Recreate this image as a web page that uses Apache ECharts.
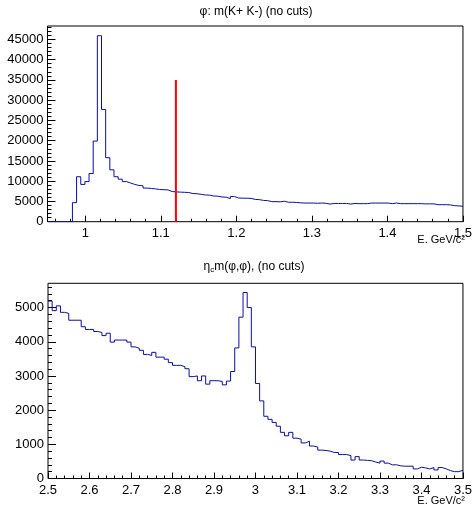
<!DOCTYPE html>
<html><head><meta charset="utf-8">
<script src="https://cdn.jsdelivr.net/npm/echarts@6/dist/echarts.min.js"></script>
<style>html,body{margin:0;padding:0;background:#fff}#c{width:475px;height:511px}</style>
</head><body><div id="c"></div>
<script>
// ---- data ----
const phiRange = [0.95, 1.5];
const phiCounts = [0,0,0,0,0,0,4700,11100,9200,9900,
  11900,19900,45900,27700,15800,12800,11100,10500,9900,9550,
  9200,8950,8850,8300,8200,8100,7950,7900,7850,7450,
  7350,7300,7250,7200,6950,6900,6750,6600,6550,6350,
  6300,6100,6050,5700,6200,5850,5800,5800,5750,5500,
  5450,5250,5200,4950,4950,4900,5050,4800,4800,4750,
  4650,4600,4600,4600,4550,4600,4550,4350,4500,4500,
  4500,4500,4350,4500,4450,4450,4450,4600,4600,4600,
  4600,4600,4450,4600,4450,4450,4450,4450,4450,4450,
  4400,4400,4400,4200,4200,4200,4150,3950,3900,3800];
const etaRange = [2.5, 3.5];
const etaCounts = [5190,4910,5050,4860,4830,4630,4630,4630,4440,4360,
  4360,4300,4270,4180,4250,3990,4050,4050,4050,3990,
  3850,3810,3750,3630,3600,3690,3550,3550,3490,3390,
  3310,3310,3270,3210,2980,3000,2860,3000,2760,2860,
  2860,2840,2740,2850,3130,3820,4720,5440,5000,3850,
  2780,2270,1820,1730,1640,1530,1350,1250,1350,1180,
  1150,1040,1090,950,920,830,820,800,760,760,
  700,700,670,540,640,540,530,520,480,450,
  510,450,400,400,370,360,360,360,280,330,
  310,280,320,250,320,280,230,200,200,240];
const cutX = 1.12;
const cutTop = 35000;
const phiYMax = 48300;
const etaYMax = 5710;
const phiXTicks = [1, 1.1, 1.2, 1.3, 1.4, 1.5];
const phiYTicks = [0,5000,10000,15000,20000,25000,30000,35000,40000,45000];
const etaXTicks = [2.5,2.6,2.7,2.8,2.9,3,3.1,3.2,3.3,3.4,3.5];
const etaYTicks = [0,1000,2000,3000,4000,5000];
const topTitle = 'φ: m(K+ K-) (no cuts)';
const xTitle = 'E. GeV/c²';

// ---- helpers ----
function stepData(range, counts){
  const w = (range[1]-range[0])/counts.length;
  const pts = counts.map((c,i)=>[range[0]+i*w, c]);
  pts.push([range[1], counts[counts.length-1]]);
  return pts;
}
function minors(lo, hi, step){
  const out=[]; let k=Math.ceil(lo/step-1e-9);
  for(;;k++){ const v=Math.round(k*step*1e6)/1e6; if(v>hi+1e-9) break; out.push(v);} return out;
}
const FONT = '"Liberation Sans", Arial, Helvetica, sans-serif';
const lineColor = '#0d0d9c';

function xAxes(grid, range, majors, minorStep){
  return [{
    gridIndex:grid, type:'value', min:range[0], max:range[1],
    axisLine:{show:false}, splitLine:{show:false},
    axisTick:{show:true, inside:true, length:6, customValues:majors, lineStyle:{color:'#000',width:1}},
    axisLabel:{customValues:majors, formatter:v=>String(v), fontFamily:FONT, fontSize:13, color:'#000', margin:5, hideOverlap:false}
  },{
    gridIndex:grid, type:'value', min:range[0], max:range[1], position:'bottom',
    axisLine:{show:false}, splitLine:{show:false}, axisLabel:{show:false},
    axisTick:{show:true, inside:true, length:3, customValues:minors(range[0],range[1],minorStep), lineStyle:{color:'#000',width:1}}
  }];
}
function yAxes(grid, max, majors, minorStep){
  return [{
    gridIndex:grid, type:'value', min:0, max:max,
    axisLine:{show:false}, splitLine:{show:false},
    axisTick:{show:true, inside:true, length:8, customValues:majors, lineStyle:{color:'#000',width:1}},
    axisLabel:{customValues:majors, formatter:v=>String(v), fontFamily:FONT, fontSize:13, color:'#000', margin:4}
  },{
    gridIndex:grid, type:'value', min:0, max:max, position:'left',
    axisLine:{show:false}, splitLine:{show:false}, axisLabel:{show:false},
    axisTick:{show:true, inside:true, length:4, customValues:minors(0,max,minorStep), lineStyle:{color:'#000',width:1}}
  }];
}

const chart = echarts.init(document.getElementById('c'), null, {renderer:'canvas'});
chart.setOption({
  animation:false,
  backgroundColor:'#fff',
  grid:[
    {left:47.5, top:26, width:418.5, height:195.7, show:true, borderColor:'#000', borderWidth:1, backgroundColor:'transparent'},
    {left:48, top:283.3, width:418.5, height:195.2, show:true, borderColor:'#000', borderWidth:1, backgroundColor:'transparent'}
  ],
  xAxis:[...xAxes(0, phiRange, phiXTicks, 0.02), ...xAxes(1, etaRange, etaXTicks, 0.02)],
  yAxis:[...yAxes(0, phiYMax, phiYTicks, 1000), ...yAxes(1, etaYMax, etaYTicks, 200)],
  series:[
    {type:'line', xAxisIndex:0, yAxisIndex:0, step:'end', showSymbol:false, data:stepData(phiRange, phiCounts),
     lineStyle:{color:lineColor, width:1}},
    {type:'line', xAxisIndex:0, yAxisIndex:0, showSymbol:false, data:[[cutX,0],[cutX,cutTop]],
     lineStyle:{color:'#ff0000', width:2}},
    {type:'line', xAxisIndex:2, yAxisIndex:2, step:'end', showSymbol:false, data:stepData(etaRange, etaCounts),
     lineStyle:{color:lineColor, width:1}}
  ],
  graphic:[
    {type:'text', x:256, y:6, style:{text:topTitle, font:'12px '+FONT, fill:'#000', align:'center'}},
    {type:'text', x:254, y:259, style:{
      text:'{a|η}{s|c}{a|m(φ,φ), (no cuts)}', font:'12px '+FONT, fill:'#000', align:'center',
      rich:{a:{fontSize:12, fontFamily:FONT, fill:'#000'}, s:{fontSize:8, fontFamily:FONT, fill:'#000', padding:[7,0,0,0]}}
    }},
    {type:'text', x:465, y:234, style:{text:xTitle, font:'11px '+FONT, fill:'#000', align:'right'}},
    {type:'text', x:465, y:495, style:{text:xTitle, font:'11px '+FONT, fill:'#000', align:'right'}}
  ]
});
</script>
</body></html>
